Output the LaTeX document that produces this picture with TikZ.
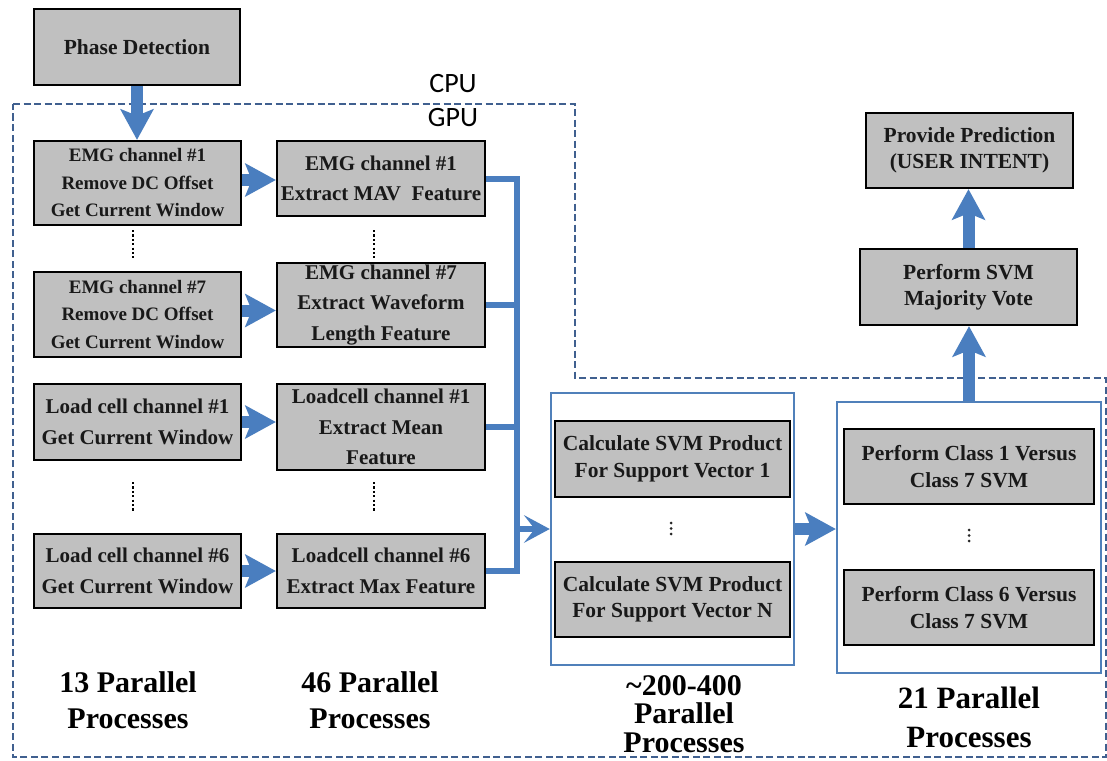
\documentclass[tikz,border=0pt]{standalone}
\usepackage{fontspec}
\setmainfont{Liberation Serif}
\newfontfamily\unitfont{Carlito}
\usetikzlibrary{arrows.meta}

\definecolor{boxgray}{HTML}{C0C0C0}
\definecolor{flowblue}{HTML}{4A7EBF}
\definecolor{frameblue}{HTML}{5080BA}
\definecolor{gpudash}{HTML}{40608F}

\tikzset{
  box/.style={draw=black, line width=2.5pt, fill=boxgray, align=center,
    inner sep=0pt, text=black!90},
  chanfont/.style={font=\fontsize{19}{27.5}\selectfont\bfseries},
  featfont/.style={font=\fontsize{21}{30.5}\selectfont\bfseries},
  svmfont/.style={font=\fontsize{21.5}{26.5}\selectfont\bfseries},
  colbox/.style={box, minimum width=207pt},
  midbox/.style={box, featfont, minimum width=208pt},
  frame/.style={draw=frameblue, line width=2.5pt, fill=white, inner sep=0pt},
  unitlabel/.style={font=\unitfont\fontsize{28}{30}\selectfont, inner sep=0pt},
  caption/.style={align=center, inner sep=0pt,
    font=\fontsize{30}{36}\selectfont\bfseries},
  gpuline/.style={draw=gpudash, line width=2pt, dash pattern=on 7pt off 3.5pt},
  bigarrow/.style={draw=flowblue, line width=12pt,
    -{Stealth[length=31pt, width=34pt, inset=7pt, line width=0pt]}},
  thinarrow/.style={draw=flowblue, line width=5.5pt,
    -{Stealth[length=26pt, width=28pt, inset=11pt, line width=0pt]}},
  bus/.style={draw=flowblue, line width=6pt, line join=miter},
  gapdots/.style={draw=black, line width=2.4pt, dash pattern=on 2.2pt off 2.2pt},
}

\begin{document}
\begin{tikzpicture}[x=1pt, y=-1pt]
\fill[white] (0,0) rectangle (1107,760);
\useasboundingbox (0,0) rectangle (1107,760);

% GPU region outline, with the CPU part left outside it
\draw[gpuline] (13,104) -- (575,104) -- (575,378) -- (1106,378)
  -- (1106,757) -- (13,757) -- cycle;
\node[unitlabel] (cpu) at (453,84) {CPU};
\node[unitlabel] (gpu) at (453,118) {GPU};

% CPU stage
\node[box, font=\fontsize{21.5}{27}\selectfont\bfseries,
  minimum width=206pt, minimum height=76pt] (phase) at (137,47) {Phase Detection};

% windowing column
\node[colbox, chanfont, minimum height=84pt] (emgA) at (137.5,183)
  {EMG channel \#1\\Remove DC Offset\\Get Current Window};
\node[colbox, chanfont, minimum height=85pt] (emgB) at (137.5,314.5)
  {EMG channel \#7\\Remove DC Offset\\Get Current Window};
\node[colbox, featfont, minimum height=76pt] (lcA) at (137.5,422)
  {Load cell channel \#1\\Get Current Window};
\node[colbox, featfont, minimum height=74pt] (lcB) at (137.5,571)
  {Load cell channel \#6\\Get Current Window};

% feature column
\node[midbox, minimum height=75pt] (featA) at (381,178.5)
  {EMG channel \#1\\Extract MAV~ Feature};
\node[midbox, minimum height=84pt] (featB) at (381,305)
  {EMG channel \#7\\Extract Waveform\\Length Feature};
\node[midbox, minimum height=86pt] (featC) at (381,427)
  {Loadcell channel \#1\\Extract Mean\\Feature};
\node[midbox, minimum height=74pt] (featD) at (381,571)
  {Loadcell channel \#6\\Extract Max Feature};

% elided channels
\draw[gapdots] (133,230) -- (133,258);
\draw[gapdots] (374,230) -- (374,258);
\draw[gapdots] (133,482) -- (133,512);
\draw[gapdots] (374,482) -- (374,512);

% support vector products
\node[frame, minimum width=243pt, minimum height=272pt] (svmbox) at (672.5,529) {};
\node[box, svmfont, minimum width=235pt, minimum height=76pt] (svmA) at (672.5,459)
  {Calculate SVM Product\\For Support Vector 1};
\node[box, svmfont, minimum width=235pt, minimum height=75pt] (svmN) at (672.5,599.5)
  {Calculate SVM Product\\For Support Vector N};
\foreach \k in {0,1,2} \fill[black!85] (671,523+5.5*\k) circle (1.5pt);

% pairwise classifiers
\node[frame, minimum width=264pt, minimum height=271pt] (clsbox) at (969,537.5) {};
\node[box, svmfont, minimum width=250pt, minimum height=75pt] (clsA) at (969,466.5)
  {Perform Class 1 Versus\\Class 7 SVM};
\node[box, svmfont, minimum width=250pt, minimum height=75pt] (clsF) at (969,607.5)
  {Perform Class 6 Versus\\Class 7 SVM};
\foreach \k in {0,1,2} \fill[black!85] (969,530+5.5*\k) circle (1.5pt);

% CPU side of the classifier
\node[box, svmfont, minimum width=217pt, minimum height=76pt] (vote) at (968.5,287)
  {Perform SVM\\Majority Vote};
\node[box, svmfont, minimum width=207pt, minimum height=75pt] (predict) at (969.5,150.5)
  {Provide Prediction\\(USER INTENT)};

% stage captions
\node[caption] (capA) at (128,700) {13 Parallel\\Processes};
\node[caption] (capB) at (370,700) {46 Parallel\\Processes};
\node[caption, font=\fontsize{30}{28.5}\selectfont\bfseries] (capC) at (684,714)
  {\textasciitilde200-400\\Parallel\\Processes};
\node[caption, font=\fontsize{31}{39}\selectfont\bfseries] (capD) at (969,717)
  {21 Parallel\\Processes};

% data flow
\coordinate (outA) at ([yshift=3pt]emgA.east);
\coordinate (outB) at ([yshift=4pt]emgB.east);
\draw[bigarrow] (phase.south) -- (phase.south |- emgA.north);
\draw[bigarrow] (outA) -- (outA -| featA.west);
\draw[bigarrow] (outB) -- (outB -| featB.west);
\draw[bigarrow] (lcA.east) -- (lcA.east -| featC.west);
\draw[bigarrow] (lcB.east) -- (lcB.east -| featD.west);

\coordinate (busBot) at (517,571);
\coordinate (busTap) at (517,529);
\draw[bus] (featA.east) -| (busBot) -- (featD.east);
\draw[bus] (featB.east) -- (featB.east -| busBot);
\draw[bus] (featC.east) -- (featC.east -| busBot);
\draw[thinarrow] (busTap) -- (busTap -| svmbox.west);

\draw[bigarrow] (svmbox.east) -- (svmbox.east -| clsbox.west);
\draw[bigarrow] (clsbox.north) -- (clsbox.north |- vote.south);
\draw[bigarrow] (vote.north) -- (vote.north |- predict.south);
\end{tikzpicture}
\end{document}
